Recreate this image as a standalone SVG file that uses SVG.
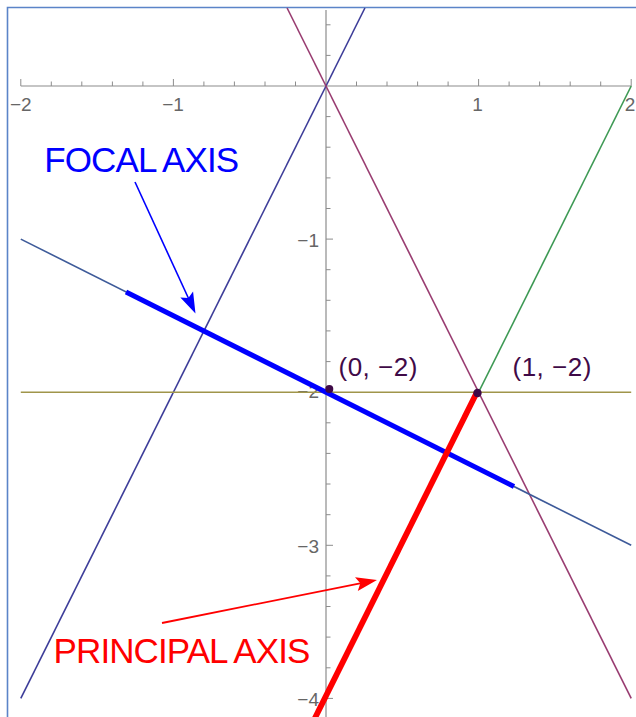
<svg xmlns="http://www.w3.org/2000/svg" width="636" height="717" viewBox="0 0 636 717">
<style>
.ax{stroke:#8c8c8c;stroke-width:1.2;fill:none}
.tk{stroke:#8c8c8c;stroke-width:1;fill:none}
.tl{font-family:"Liberation Sans",Arial,sans-serif;font-size:19px;fill:#666666}
.thin{stroke-width:1.6;fill:none}
.pt{fill:#3f0a47}
.pl{font-family:"Liberation Sans",Arial,sans-serif;font-size:26px;letter-spacing:0.5px;fill:#3f0a47}
.big{font-family:"Liberation Sans",Arial,sans-serif;font-size:35px;letter-spacing:-0.9px}
</style>
<defs>
<marker id="hb" markerUnits="userSpaceOnUse" orient="auto" refX="0" refY="0" markerWidth="30" markerHeight="30" overflow="visible">
<path d="M16,0 L-5,-7 L-1,0 L-5,7 Z" fill="#0000ff"/>
</marker>
<marker id="hr" markerUnits="userSpaceOnUse" orient="auto" refX="0" refY="0" markerWidth="30" markerHeight="30" overflow="visible">
<path d="M16,0 L-5,-7 L-1,0 L-5,7 Z" fill="#ff0000"/>
</marker>
</defs>
<rect width="636" height="717" fill="#ffffff"/>
<g id="frame">
<path d="M7.5,717 L7.5,7.5 L636,7.5" stroke="#5b84c8" stroke-width="1.6" fill="none"/>
</g>
<g id="axes">
<line class="ax" x1="20.8" y1="86" x2="631.2" y2="86"/>
<line class="ax" x1="326" y1="10" x2="326" y2="717"/>
<path class="tk" d="M20.8,86V79 M51.3,86V81.5 M81.8,86V81.5 M112.4,86V81.5 M142.9,86V81.5 M173.4,86V79 M203.9,86V81.5 M234.4,86V81.5 M265,86V81.5 M295.5,86V81.5 M356.5,86V81.5 M387,86V81.5 M417.6,86V81.5 M448.1,86V81.5 M478.6,86V79 M509.1,86V81.5 M539.6,86V81.5 M570.2,86V81.5 M600.7,86V81.5 M631.2,86V79"/>
<path class="tk" d="M326,24.8H330.5 M326,55.4H330.5 M326,116.6H330.5 M326,147.2H330.5 M326,177.9H330.5 M326,208.5H330.5 M326,239.1H333 M326,269.7H330.5 M326,300.3H330.5 M326,330.9H330.5 M326,361.6H330.5 M326,392.2H333 M326,422.8H330.5 M326,453.4H330.5 M326,484H330.5 M326,514.7H330.5 M326,545.3H333 M326,575.9H330.5 M326,606.5H330.5 M326,637.1H330.5 M326,667.8H330.5 M326,698.4H333"/>
<text class="tl" x="20.8" y="111" text-anchor="middle">−2</text>
<text class="tl" x="173" y="111" text-anchor="middle">−1</text>
<text class="tl" x="477.5" y="111" text-anchor="middle">1</text>
<text class="tl" x="630" y="111" text-anchor="middle">2</text>
<text class="tl" x="319" y="247" text-anchor="end">−1</text>
<text class="tl" x="319" y="398" text-anchor="end">−2</text>
<text class="tl" x="319" y="553" text-anchor="end">−3</text>
<text class="tl" x="319" y="706" text-anchor="end">−4</text>
</g>
<g id="curves">
<line id="line-y2x" class="thin" stroke="#3d3d99" x1="364.9" y1="8" x2="20.8" y2="698.4"/>
<line id="line-ym2x" class="thin" stroke="#993d71" x1="287.1" y1="8" x2="631.2" y2="698.4"/>
<line id="line-green" class="thin" stroke="#3d9954" x1="631.2" y1="86" x2="316.7" y2="717"/>
<line id="line-ym2" class="thin" stroke="#a0954a" x1="20.8" y1="392.2" x2="631.2" y2="392.2"/>
<line id="line-normal" class="thin" stroke="#3d5a99" x1="20.8" y1="239.1" x2="631.2" y2="545.3"/>
</g>
<g id="focal-axis">
<line x1="126" y1="291.9" x2="514" y2="486.5" stroke="#0000ff" stroke-width="5"/>
</g>
<g id="principal-axis">
<line x1="476.5" y1="393" x2="314" y2="720" stroke="#ff0000" stroke-width="5.8"/>
</g>
<g id="point-0m2">
<circle class="pt" cx="329.3" cy="389" r="4"/>
<text class="pl" x="338.5" y="375.5">(0, −2)</text>
</g>
<g id="point-1m2">
<circle class="pt" cx="477.5" cy="393" r="4.2"/>
<text class="pl" x="512.5" y="375.5">(1, −2)</text>
</g>
<g id="label-focal">
<text class="big" x="44.3" y="171.7" fill="#0000ff">FOCAL AXIS</text>
</g>
<g id="label-principal">
<text class="big" x="53.6" y="663.3" fill="#ff0000">PRINCIPAL AXIS</text>
</g>
<g id="connectors">
<line x1="135" y1="182" x2="188.8" y2="299" stroke="#0000ff" stroke-width="1.6" marker-end="url(#hb)"/>
<line x1="162" y1="623" x2="361.3" y2="583.1" stroke="#ff0000" stroke-width="1.8" marker-end="url(#hr)"/>
</g>
</svg>
